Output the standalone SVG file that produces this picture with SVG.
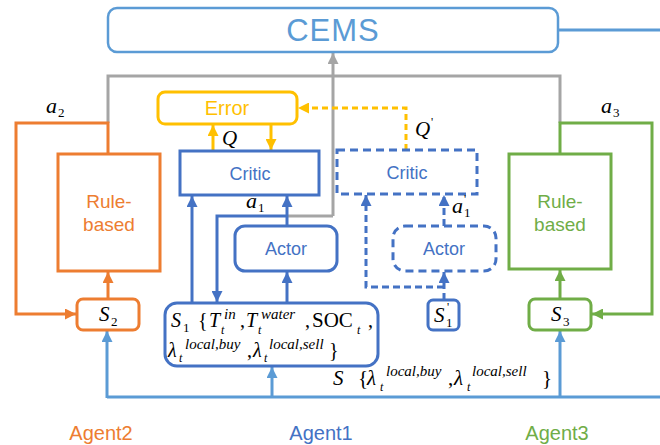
<svg xmlns="http://www.w3.org/2000/svg" width="660" height="445" viewBox="0 0 660 445">
<style>
.sans{font-family:"Liberation Sans",Arial,sans-serif;text-anchor:middle}
.m{font-family:"Liberation Serif","Times New Roman",serif;font-style:italic;fill:#000}
.n{font-style:normal}
.box{fill:#fff;stroke-width:3}
.ln{fill:none;stroke-width:3}
</style>
<defs>
<marker id="aOr" viewBox="0 0 10 10" refX="10" refY="5" markerWidth="11" markerHeight="11" markerUnits="userSpaceOnUse" orient="auto"><path d="M0,0L10,5L0,10z" fill="#ED7D31"/></marker>
<marker id="aBl" viewBox="0 0 10 10" refX="10" refY="5" markerWidth="11" markerHeight="11" markerUnits="userSpaceOnUse" orient="auto"><path d="M0,0L10,5L0,10z" fill="#4472C4"/></marker>
<marker id="aLb" viewBox="0 0 10 10" refX="10" refY="5" markerWidth="11" markerHeight="11" markerUnits="userSpaceOnUse" orient="auto"><path d="M0,0L10,5L0,10z" fill="#5B9BD5"/></marker>
<marker id="aGr" viewBox="0 0 10 10" refX="10" refY="5" markerWidth="11" markerHeight="11" markerUnits="userSpaceOnUse" orient="auto"><path d="M0,0L10,5L0,10z" fill="#70AD47"/></marker>
<marker id="aYe" viewBox="0 0 10 10" refX="10" refY="5" markerWidth="11" markerHeight="11" markerUnits="userSpaceOnUse" orient="auto"><path d="M0,0L10,5L0,10z" fill="#FFC000"/></marker>
<marker id="aGy" viewBox="0 0 10 10" refX="10" refY="5" markerWidth="11" markerHeight="11" markerUnits="userSpaceOnUse" orient="auto"><path d="M0,0L10,5L0,10z" fill="#A5A5A5"/></marker>
</defs>
<rect width="660" height="445" fill="#fff"/>

<g id="connectors">
  <path class="ln" d="M558 30H660" stroke="#5B9BD5" stroke-width="2.5"/>
  <path class="ln" d="M108 123V76H560V123" stroke="#A5A5A5"/>
  <path class="ln" d="M333 216V53" stroke="#A5A5A5" marker-end="url(#aGy)"/>
  <path class="ln" d="M287 216H333" stroke="#A5A5A5"/>
  <path class="ln" d="M213 151V125" stroke="#FFC000" stroke-width="2.5" marker-end="url(#aYe)"/>
  <path class="ln" d="M271 124V150" stroke="#FFC000" stroke-width="2.5" marker-end="url(#aYe)"/>
  <path class="ln" d="M406 150V108H298" stroke="#FFC000" stroke-width="2" stroke-dasharray="6,4" marker-end="url(#aYe)"/>
  <path class="ln" d="M192 303V196" stroke="#4472C4" marker-end="url(#aBl)"/>
  <path class="ln" d="M287 226V196" stroke="#4472C4" marker-end="url(#aBl)"/>
  <path class="ln" d="M287 216H217V302" stroke="#4472C4" marker-end="url(#aBl)"/>
  <path class="ln" d="M287 303V272" stroke="#4472C4" marker-end="url(#aBl)"/>
  <path class="ln" d="M444 300V272" stroke="#4472C4" stroke-width="2.5" stroke-dasharray="7,4" marker-end="url(#aBl)"/>
  <path class="ln" d="M444 287H366V195" stroke="#4472C4" stroke-width="2.5" stroke-dasharray="7,4" marker-end="url(#aBl)"/>
  <path class="ln" d="M444 226V195" stroke="#4472C4" stroke-width="2.5" stroke-dasharray="7,4" marker-end="url(#aBl)"/>
  <path class="ln" d="M108 154V123H16V314H76" stroke="#ED7D31" marker-end="url(#aOr)"/>
  <path class="ln" d="M108 298V272" stroke="#ED7D31" marker-end="url(#aOr)"/>
  <path class="ln" d="M560 154V123H652V314H592" stroke="#70AD47" marker-end="url(#aGr)"/>
  <path class="ln" d="M560 298V270" stroke="#70AD47" marker-end="url(#aGr)"/>
  <path class="ln" d="M107 397H660" stroke="#5B9BD5"/>
  <path class="ln" d="M107 398V331" stroke="#5B9BD5" marker-end="url(#aLb)"/>
  <path class="ln" d="M272 397V367" stroke="#5B9BD5" marker-end="url(#aLb)"/>
  <path class="ln" d="M560 397V331" stroke="#5B9BD5" marker-end="url(#aLb)"/>
</g>

<g id="cems">
  <rect x="108" y="8" width="450" height="44" rx="9" fill="#fff" stroke="#5B9BD5" stroke-width="2.5"/>
  <text class="sans" x="333" y="41" font-size="31" fill="#5B9BD5" letter-spacing="1">CEMS</text>
</g>

<g id="error">
  <rect class="box" x="158" y="92" width="139" height="32" rx="7" stroke="#FFC000"/>
  <text class="sans" x="227" y="115" font-size="20" fill="#FFC000">Error</text>
</g>

<g id="critic">
  <rect class="box" x="180" y="151" width="139" height="44" stroke="#4472C4"/>
  <text class="sans" x="250" y="180" font-size="18" fill="#4472C4">Critic</text>
</g>

<g id="critic-target">
  <rect class="box" x="337" y="150" width="140" height="44" stroke="#4472C4" stroke-width="2.5" stroke-dasharray="8,5"/>
  <text class="sans" x="407" y="179" font-size="18" fill="#4472C4">Critic</text>
</g>

<g id="actor">
  <rect class="box" x="235" y="226" width="102" height="45" rx="10" stroke="#4472C4"/>
  <text class="sans" x="286" y="255" font-size="18" fill="#4472C4">Actor</text>
</g>

<g id="actor-target">
  <rect class="box" x="393" y="226" width="103" height="45" rx="12" stroke="#4472C4" stroke-width="2.5" stroke-dasharray="8,5"/>
  <text class="sans" x="444" y="255" font-size="18" fill="#4472C4">Actor</text>
</g>

<g id="rule2">
  <rect class="box" x="58" y="154" width="102" height="117" stroke="#ED7D31"/>
  <text class="sans" x="109" y="208" font-size="19" fill="#ED7D31">Rule-</text>
  <text class="sans" x="109" y="231" font-size="19" fill="#ED7D31">based</text>
</g>

<g id="rule3">
  <rect class="box" x="509" y="154" width="102" height="115" stroke="#70AD47"/>
  <text class="sans" x="560" y="208" font-size="19" fill="#70AD47">Rule-</text>
  <text class="sans" x="560" y="231" font-size="19" fill="#70AD47">based</text>
</g>

<g id="s2">
  <rect class="box" x="77" y="299" width="62" height="31" rx="6" stroke="#ED7D31" stroke-width="2.5"/>
  <text class="m" font-size="21"><tspan x="99" y="321">S</tspan><tspan x="111" y="326" font-size="13" class="n">2</tspan></text>
</g>

<g id="s3">
  <rect class="box" x="529" y="299" width="62" height="31" rx="6" stroke="#70AD47" stroke-width="2.5"/>
  <text class="m" font-size="21"><tspan x="551" y="321">S</tspan><tspan x="563" y="326" font-size="13" class="n">3</tspan></text>
</g>

<g id="s1p">
  <rect class="box" x="428" y="300" width="31" height="30" rx="5" stroke="#4472C4" stroke-width="2.5"/>
  <text class="m" font-size="21"><tspan x="434" y="322">S</tspan><tspan x="447" y="311" font-size="12" class="n">'</tspan><tspan x="446" y="327" font-size="13" class="n">1</tspan></text>
</g>

<g id="s1">
  <rect class="box" x="165" y="303" width="213" height="63" rx="12" stroke="#4472C4" stroke-width="2.5"/>
  <text class="m" font-size="20"><tspan x="171" y="327">S</tspan><tspan x="183" y="332" font-size="13" class="n">1</tspan><tspan x="198" y="327" class="n">{</tspan><tspan x="209" y="327">T</tspan><tspan x="224" y="319" font-size="15">in</tspan><tspan x="221" y="334" font-size="12">t</tspan><tspan x="240" y="327" class="n">,</tspan><tspan x="246" y="327">T</tspan><tspan x="261" y="319" font-size="15">water</tspan><tspan x="258" y="334" font-size="12">t</tspan><tspan x="305" y="327" class="n">,</tspan><tspan x="312" y="327" class="n" font-size="21">SOC</tspan><tspan x="357" y="334" font-size="12">t</tspan><tspan x="368" y="327" class="n">,</tspan></text>
  <text class="m" font-size="20"><tspan x="168" y="357">λ</tspan><tspan x="185" y="349" font-size="15">local,buy</tspan><tspan x="179" y="362" font-size="12">t</tspan><tspan x="247" y="357" class="n">,</tspan><tspan x="253" y="357">λ</tspan><tspan x="269" y="349" font-size="15">local,sell</tspan><tspan x="264" y="362" font-size="12">t</tspan><tspan x="329" y="357" class="n">}</tspan></text>
</g>

<g id="labels">
  <text class="m" font-size="22"><tspan x="46" y="113">a</tspan><tspan x="58" y="117" font-size="13" class="n">2</tspan></text>
  <text class="m" font-size="22"><tspan x="601" y="113">a</tspan><tspan x="613" y="117" font-size="13" class="n">3</tspan></text>
  <text class="m" font-size="22"><tspan x="246" y="208">a</tspan><tspan x="258" y="212" font-size="13" class="n">1</tspan></text>
  <text class="m" font-size="22"><tspan x="452" y="213">a</tspan><tspan x="464" y="203" font-size="12" class="n">'</tspan><tspan x="464" y="217" font-size="13" class="n">1</tspan></text>
  <text class="m" font-size="21" x="222" y="145">Q</text>
  <text class="m" font-size="21"><tspan x="415" y="136">Q</tspan><tspan x="431" y="126" font-size="12" class="n">'</tspan></text>
  <text class="m" font-size="21"><tspan x="333" y="385">S</tspan><tspan x="358" y="385" class="n">{</tspan><tspan x="367" y="385">λ</tspan><tspan x="386" y="376" font-size="15">local,buy</tspan><tspan x="380" y="391" font-size="12">t</tspan><tspan x="448" y="385" class="n">,</tspan><tspan x="454" y="385">λ</tspan><tspan x="472" y="376" font-size="15">local,sell</tspan><tspan x="467" y="391" font-size="12">t</tspan><tspan x="542" y="385" class="n">}</tspan></text>
  <text class="sans" x="101" y="440" font-size="20" fill="#ED7D31">Agent2</text>
  <text class="sans" x="321" y="440" font-size="20" fill="#4472C4">Agent1</text>
  <text class="sans" x="557" y="440" font-size="20" fill="#70AD47">Agent3</text>
</g>
</svg>
